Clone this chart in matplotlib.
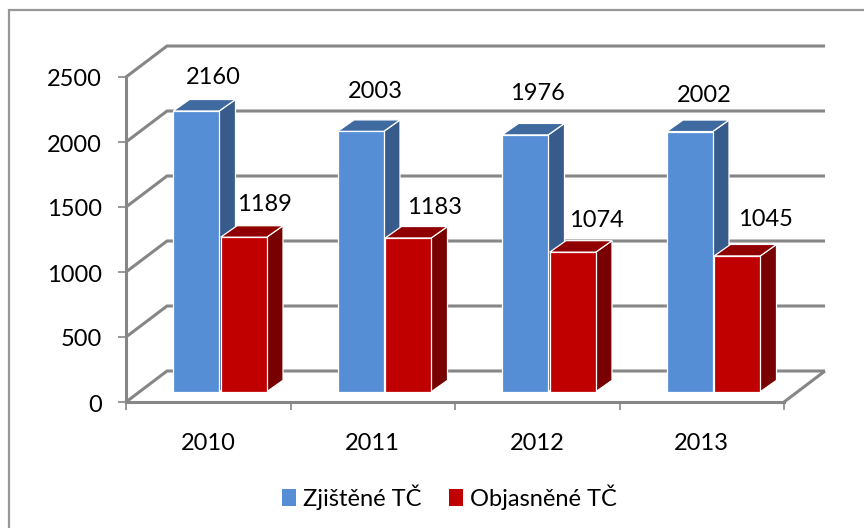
import matplotlib
matplotlib.use("Agg")
import matplotlib.pyplot as plt
from matplotlib.lines import Line2D
from matplotlib.patches import Patch, Polygon
from matplotlib.transforms import ScaledTranslation

years = ["2010", "2011", "2012", "2013"]
series_names = ["Zjištěné TČ", "Objasněné TČ"]
found = [2160, 2003, 1976, 2002]
solved = [1189, 1183, 1074, 1045]
y_ticks = [0, 500, 1000, 1500, 2000, 2500]

# label offsets (pixels) from the top-front-centre of each bar
found_label_off = [(17, 33), (15, 40), (12, 41), (15, 36)]
solved_label_off = [(21, 33), (26, 31), (23.5, 32), (28, 36)]

W, H = 864, 528
LEFT, RIGHT, BOTTOM, TOP = 126, 784, 402, 77
GRID = "#868686"
plt.rcParams["font.family"] = ["Lato", "DejaVu Sans"]
FS = 17

fig = plt.figure(figsize=(W / 100, H / 100), dpi=100, facecolor="white")
ax = fig.add_axes([LEFT / W, 1 - BOTTOM / H, (RIGHT - LEFT) / W, (BOTTOM - TOP) / H])
ax.set_xlim(0, len(years))
ax.set_ylim(0, y_ticks[-1])
ax.patch.set_visible(False)

px_x = len(years) / (RIGHT - LEFT)
px_y = y_ticks[-1] / (BOTTOM - TOP)

# wall depth and bar depth, expressed in data units
wall_dx, wall_dy = 41 * px_x, 31 * px_y
bar_dx, bar_dy = 16.3 * px_x, 11.5 * px_y
base = 10.2 * px_y
bar_w = 46 * px_x
first_shift = (173.2 - LEFT) * px_x
second_shift = (220.7 - LEFT) * px_x

# gridlines: diagonal on the side wall, horizontal on the back wall
for v in y_ticks:
    ax.plot([0, wall_dx, len(years) + wall_dx], [v, v + wall_dy, v + wall_dy],
            color=GRID, lw=2.2, clip_on=False, zorder=1, solid_capstyle="butt", solid_joinstyle="miter")
ax.plot([len(years), len(years) + wall_dx], [0, wall_dy], color=GRID, lw=2.2,
        clip_on=False, zorder=1, solid_capstyle="butt")


def bar3d(x, v, front, top, side, z):
    ax.bar(x, v, width=bar_w, bottom=base, align="edge", color=front, edgecolor="white",
           linewidth=0.9, clip_on=False, zorder=z + 0.2)
    y0, y1 = base, base + v
    ax.add_patch(Polygon([(x + bar_w, y0), (x + bar_w + bar_dx, y0 + bar_dy),
                          (x + bar_w + bar_dx, y1 + bar_dy), (x + bar_w, y1)],
                         facecolor=side, edgecolor="white", lw=0.9, clip_on=False, zorder=z))
    ax.add_patch(Polygon([(x, y1), (x + bar_dx, y1 + bar_dy),
                          (x + bar_w + bar_dx, y1 + bar_dy), (x + bar_w, y1)],
                         facecolor=top, edgecolor="white", lw=0.9, clip_on=False, zorder=z + 0.1))


for i, (a, b) in enumerate(zip(found, solved)):
    xa = i + first_shift
    xb = i + second_shift
    bar3d(xa, a, "#558ED5", "#3F6AA0", "#375C8C", 3)
    bar3d(xb, b, "#C00000", "#900000", "#790000", 4)
    for x, v, off in ((xa, a, found_label_off[i]), (xb, b, solved_label_off[i])):
        ax.annotate(str(v), (x + bar_w / 2, base + v), xytext=off, textcoords="offset pixels",
                    ha="center", va="center", fontsize=FS, color="black",
                    annotation_clip=False, zorder=6)

for s in ("top", "right"):
    ax.spines[s].set_visible(False)
for s in ("left", "bottom"):
    ax.spines[s].set_color(GRID)
    ax.spines[s].set_linewidth(2.2)
    ax.spines[s].set_zorder(2)

ax.set_yticks(y_ticks)
ax.tick_params(axis="y", length=5.5, width=1.2, color=GRID, pad=12, labelsize=FS, labelcolor="black")
for lab in ax.get_yticklabels():
    lab.set_transform(lab.get_transform() + ScaledTranslation(0, -1 / 100, fig.dpi_scale_trans))
ax.set_xticks(range(len(years) + 1))
ax.set_xticklabels([])
ax.tick_params(axis="x", which="major", length=5.5, width=1.2, color=GRID)
ax.set_xticks([i + 0.5 for i in range(len(years))], minor=True)
ax.set_xticklabels(years, minor=True, fontsize=FS)
ax.tick_params(axis="x", which="minor", length=0, pad=22)

handles = [Patch(facecolor="#558ED5", edgecolor="none", label=series_names[0]),
           Patch(facecolor="#C00000", edgecolor="none", label=series_names[1])]
fig.legend(handles=handles, loc="center", bbox_to_anchor=(449.5 / W, 1 - 497 / H), ncol=2, frameon=False,
           fontsize=FS, handlelength=0.58, handleheight=0.72, handletextpad=0.3, columnspacing=1.2,
           borderpad=0, borderaxespad=0)

# chart-area frame, which runs off the image at the right and bottom
fig.add_artist(Line2D([8.5 / W, 8.5 / W, 1], [0, 1 - 10 / H, 1 - 10 / H], transform=fig.transFigure,
                      color="#979797", lw=1.6, solid_joinstyle="miter"))

fig.savefig("out.png", dpi=100)
